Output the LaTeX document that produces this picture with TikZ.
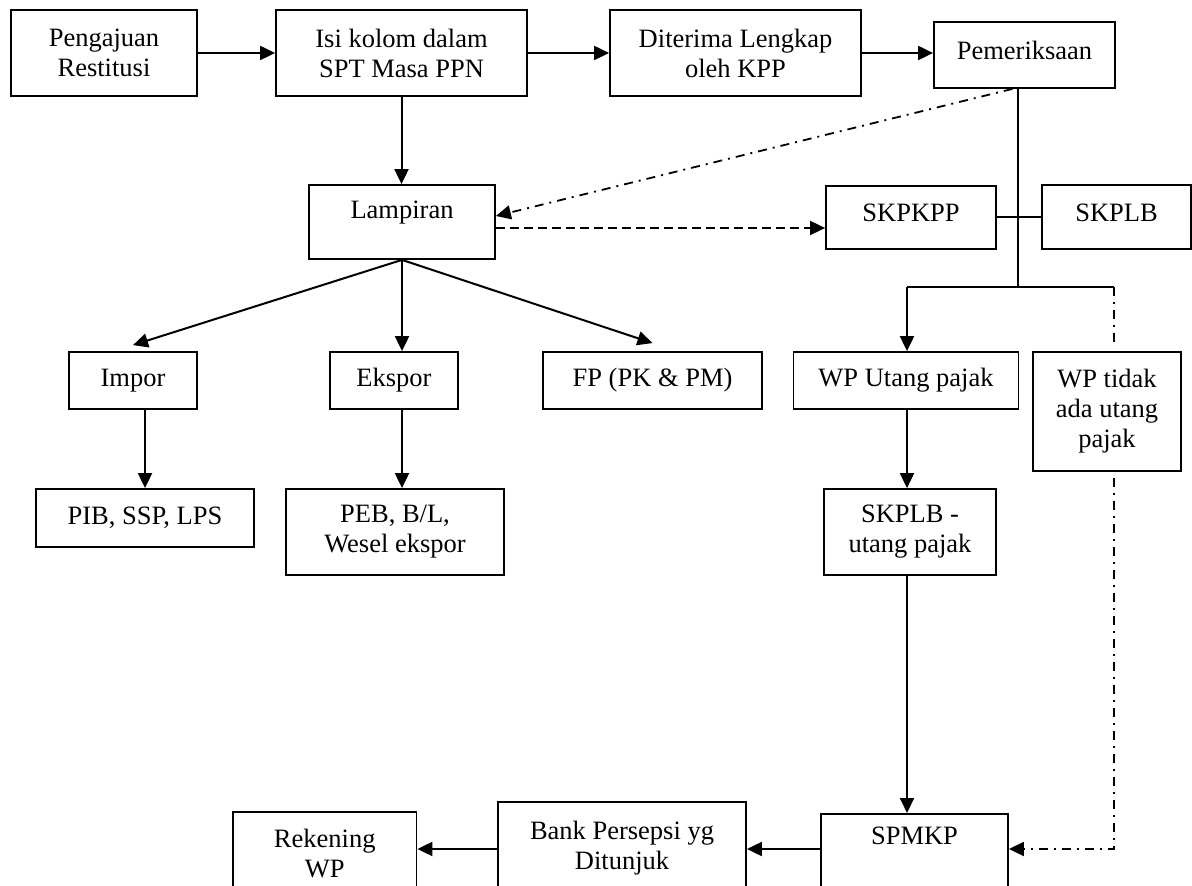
\documentclass[tikz,border=0pt]{standalone}
\usepackage{fontspec}
\setmainfont{Liberation Serif}
\usetikzlibrary{positioning,arrows.meta,calc}
\newcommand{\boxfont}{\fontsize{13.25}{15}\selectfont}
\tikzset{
flowbox/.style={rectangle, draw=black, line width=0.9pt, align=center, inner sep=2pt, font=\boxfont},
>={Triangle[length=7.5pt,width=7pt]},
link/.style={line width=1pt},
dashlink/.style={line width=0.9pt, dash pattern=on 4.5pt off 2.5pt},
dotdash/.style={line width=0.9pt, dash pattern=on 4.5pt off 3pt on 1pt off 3pt}
}
\begin{document}
\begin{tikzpicture}[x=0.5pt, y=-0.5pt]
\useasboundingbox (0,0) rectangle (1192,886);
\clip (0,0) rectangle (1192,886);

%top row
\node[flowbox, minimum width=93pt, minimum height=43pt] (restitusi) at(104,53) {Pengajuan\\Restitusi};
\node[flowbox, minimum width=125.5pt, minimum height=43pt] (isikolom) at(401.5,53) {Isi kolom dalam\\SPT Masa PPN};
\node[flowbox, minimum width=125.5pt, minimum height=43pt] (diterima) at(735.5,53) {Diterima Lengkap\\oleh KPP};
\node[flowbox, minimum width=90.5pt, minimum height=33pt, text depth=5pt] (periksa) at(1024.5,55) {Pemeriksaan};

%second row
\node[flowbox, minimum width=93pt, minimum height=37pt, text depth=12pt] (lampiran) at(402,222) {Lampiran};
\node[flowbox, minimum width=85pt, minimum height=31.5pt, text depth=4.5pt] (skpkpp) at(911,217.5) {SKPKPP};
\node[flowbox, minimum width=74.5pt, minimum height=32pt, text depth=4.5pt] (skplb) at(1116.5,217) {SKPLB};

%documents
\node[flowbox, minimum width=64pt, minimum height=28.5pt] (impor) at(133,380.5) {Impor};
\node[flowbox, minimum width=64pt, minimum height=28.5pt] (ekspor) at(394,380.5) {Ekspor};
\node[flowbox, minimum width=109.5pt, minimum height=28.5pt] (fp) at(652.5,380.5) {FP (PK \& PM)};
\node[flowbox, minimum width=109pt, minimum height=29pt] (pib) at(145,518) {PIB, SSP, LPS};
\node[flowbox, minimum width=109pt, minimum height=43pt] (peb) at(395,532) {PEB, B/L,\\Wesel ekspor};

%result of the audit
\node[flowbox, minimum width=112.5pt, minimum height=28.5pt] (wputang) at(906,380.5) {WP Utang pajak};
\node[flowbox, minimum width=74pt, minimum height=59.5pt] (wptidak) at(1107,411.5) {WP tidak\\ada utang\\pajak};
\node[flowbox, minimum width=86pt, minimum height=43pt] (skplbutang) at(910,532) {SKPLB -\\utang pajak};

%bottom row
\node[flowbox, minimum width=93.5pt, anchor=north, inner ysep=6.5pt, text depth=40pt] (spmkp) at(914.5,813) {SPMKP};
\node[flowbox, minimum width=124pt, minimum height=46.5pt] (bank) at(622,848.5) {Bank Persepsi yg\\Ditunjuk};
\node[flowbox, minimum width=91.75pt, minimum height=41.5pt] (rekening) at(324.75,853.5) {Rekening\\WP};

\coordinate (jl) at(907,287);
\coordinate (jm) at(1017.5,287);
\coordinate (jr) at(1114,287);
\coordinate (bottomrow) at(0,849);

\draw[link,->] (restitusi) -- (isikolom);
\draw[link,->] (isikolom) -- (diterima);
\draw[link,->] (diterima.east) -- (diterima.east -| periksa.west);
\draw[link,->] (isikolom.south) -- (isikolom.south |- lampiran.north);

\draw[dotdash,->] ([xshift=-2.5pt]periksa.south -| jm) -- ([yshift=3pt]lampiran.east);
\draw[dashlink,->] ([yshift=-3pt]lampiran.east) -- ([yshift=-3pt]lampiran.east -| skpkpp.west);

\draw[link,->] (lampiran.south) -- ([yshift=3pt]impor.north);
\draw[link,->] (lampiran.south) -- (lampiran.south |- ekspor.north);
\draw[link,->] (lampiran.south) -- ([yshift=4pt]fp.north);
\draw[link,->] (impor.south -| pib.north) -- (pib.north);
\draw[link,->] (ekspor.south -| lampiran.south) -- (lampiran.south |- peb.north);

\draw[link] (periksa.south -| jm) -- (jm);
\draw[link] (skpkpp.east) -- (skpkpp.east -| skplb.west);
\draw[link] (jl) -- (jr);
\draw[link,->] (jl) -- (jl |- wputang.north);
\draw[dotdash, shorten >=3pt] (jr) -- (jr |- wptidak.north);
\draw[dotdash,->, shorten <=3pt] (jr |- wptidak.south) -- (jr |- bottomrow) -- (spmkp.east |- bottomrow);

\draw[link,->] (wputang.south -| jl) -- (jl |- skplbutang.north);
\draw[link,->] (skplbutang.south -| jl) -- (jl |- spmkp.north);
\draw[link,->] (spmkp.west |- bottomrow) -- (bank.east |- bottomrow);
\draw[link,->] (bank.west |- bottomrow) -- (rekening.east |- bottomrow);
\end{tikzpicture}
\end{document}
